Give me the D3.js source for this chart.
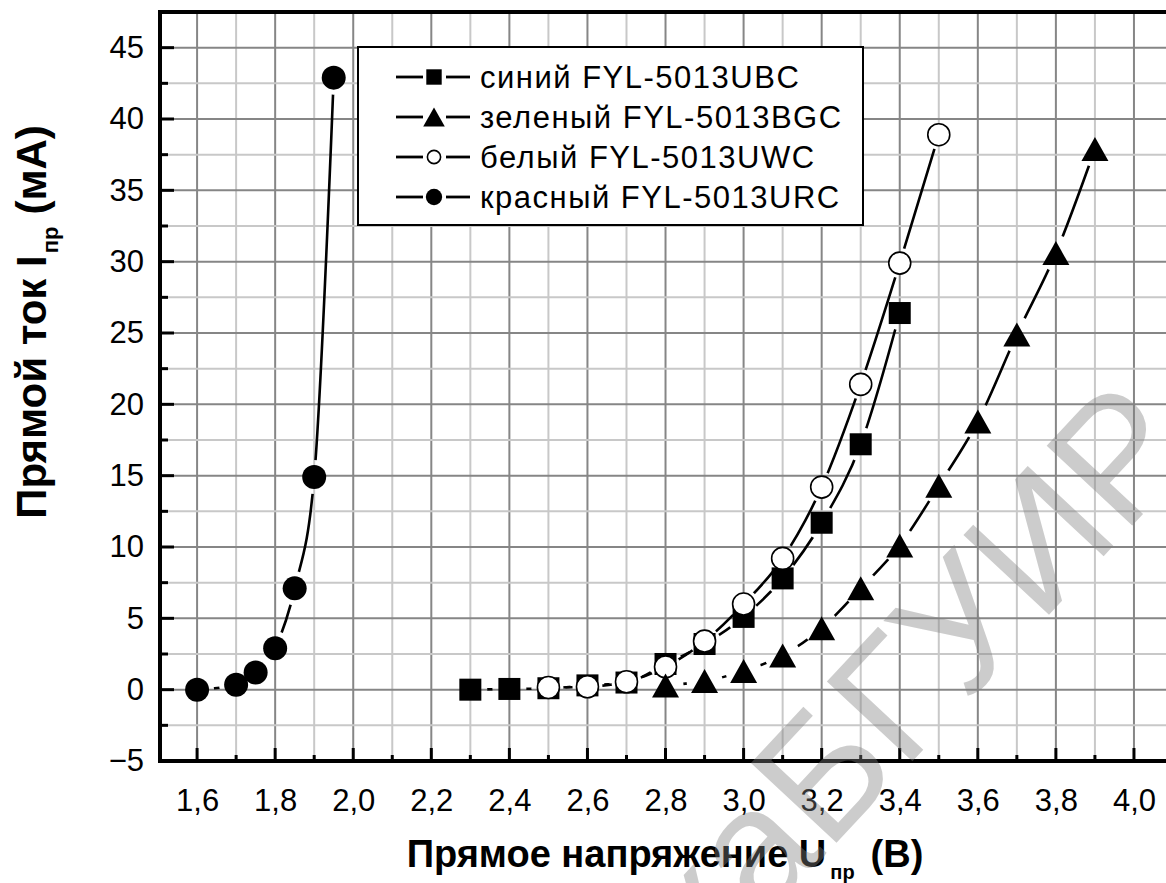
<!DOCTYPE html>
<html><head><meta charset="utf-8">
<script src="https://cdn.jsdelivr.net/npm/d3@7/dist/d3.min.js"></script>
<style>
html,body{margin:0;padding:0;background:#fff;}
svg{display:block;font-family:"Liberation Sans",Arial,sans-serif;}
</style></head>
<body>
<svg id="chart" width="1166" height="883"></svg>
<script>
// ---- data ----
const seriesNames = ["синий FYL-5013UBC", "зеленый FYL-5013BGC", "белый FYL-5013UWC", "красный FYL-5013URC"];
const blueU  = [2.3, 2.4, 2.5, 2.6, 2.7, 2.8, 2.9, 3.0, 3.1, 3.2, 3.3, 3.4];
const blueI  = [0, 0.05, 0.1, 0.3, 0.5, 1.8, 3.2, 5.1, 7.8, 11.7, 17.2, 26.4];
const greenU = [2.8, 2.9, 3.0, 3.1, 3.2, 3.3, 3.4, 3.5, 3.6, 3.7, 3.8, 3.9];
const greenI = [0.3, 0.6, 1.3, 2.4, 4.3, 7.1, 10.1, 14.3, 18.8, 24.9, 30.6, 37.9];
const whiteU = [2.5, 2.6, 2.7, 2.8, 2.9, 3.0, 3.1, 3.2, 3.3, 3.4, 3.5];
const whiteI = [0.15, 0.2, 0.55, 1.6, 3.4, 6.0, 9.2, 14.2, 21.4, 29.9, 38.9];
const redU   = [1.6, 1.7, 1.75, 1.8, 1.85, 1.9, 1.95];
const redI   = [0, 0.35, 1.2, 2.9, 7.1, 14.9, 42.9];
const xTicks = [1.6, 1.8, 2.0, 2.2, 2.4, 2.6, 2.8, 3.0, 3.2, 3.4, 3.6, 3.8, 4.0];
const yTicks = [-5, 0, 5, 10, 15, 20, 25, 30, 35, 40, 45];
const xTitle = "Прямое напряжение U";
const yTitle = "Прямой ток I";
const subText = "пр";
const watermarkPre = "Библиотека ";
const watermark = "БГУИР";

// ---- layout ----
const svg = d3.select("#chart");
const L = 160, T = 12, B = 761, R = 1173;
const x = d3.scaleLinear().domain([1.505, 4.1]).range([L, R]);
const y = d3.scaleLinear().domain([-5, 47.5]).range([B, T]);
const FONT = "Liberation Sans, Arial, sans-serif";

// grid
const gridG = svg.append("g");
const xGrid = d3.range(16, 42).map(d => d / 10);
const yGrid = d3.range(-1, 20).map(d => d * 2.5);
gridG.selectAll("line.vx").data(xGrid).join("line")
  .attr("x1", d => x(d)).attr("x2", d => x(d)).attr("y1", T).attr("y2", B)
  .attr("stroke", d => Math.round(d * 10) % 2 === 0 ? "#868686" : "#c8c8c8").attr("stroke-width", 2);
gridG.selectAll("line.hy").data(yGrid).join("line")
  .attr("y1", d => y(d)).attr("y2", d => y(d)).attr("x1", L).attr("x2", 1166)
  .attr("stroke", d => (d % 5 === 0) ? "#868686" : "#c8c8c8").attr("stroke-width", 2);

// axes
const xAxis = d3.axisBottom(x).tickValues(xTicks).tickSize(0).tickPadding(0)
  .tickFormat(d => d3.format(".1f")(d).replace(".", ","));
const gx = svg.append("g").attr("transform", `translate(0,${B})`).call(xAxis);
gx.select(".domain").remove();
gx.selectAll("text").attr("font-size", 31).attr("fill", "#000").attr("font-family", FONT)
  .attr("y", 50).attr("dy", 0);
const yAxis = d3.axisLeft(y).tickValues(yTicks).tickSize(0).tickPadding(0);
const gy = svg.append("g").attr("transform", `translate(${L},0)`).call(yAxis);
gy.select(".domain").remove();
gy.selectAll("text").attr("font-size", 31).attr("fill", "#000").attr("font-family", FONT).attr("x", -16);

// tick marks (inward)
const tickG = svg.append("g").attr("stroke", "#000").attr("stroke-width", 3);
tickG.selectAll("line.xt").data(xGrid).join("line")
  .attr("x1", d => x(d)).attr("x2", d => x(d)).attr("y1", B)
  .attr("y2", d => Math.round(d * 10) % 2 === 0 ? B - 13 : B - 6);
tickG.selectAll("line.yt").data(yGrid.filter(d => d > -5)).join("line")
  .attr("y1", d => y(d)).attr("y2", d => y(d)).attr("x1", L)
  .attr("x2", d => (d % 5 === 0) ? L + 14 : L + 8);

// frame
svg.append("line").attr("x1", L).attr("x2", 1166).attr("y1", B).attr("y2", B).attr("stroke", "#000").attr("stroke-width", 4);
svg.append("line").attr("x1", L).attr("x2", 1166).attr("y1", T).attr("y2", T).attr("stroke", "#000").attr("stroke-width", 4);
svg.append("line").attr("x1", L).attr("x2", L).attr("y1", T - 2).attr("y2", B + 2).attr("stroke", "#000").attr("stroke-width", 4);

// series
const series = [
  {name: seriesNames[0], u: blueU, i: blueI, sym: "square", hole: 17},
  {name: seriesNames[2], u: whiteU, i: whiteI, sym: "open", hole: 15},
  {name: seriesNames[1], u: greenU, i: greenI, sym: "triangle", hole: 18},
  {name: seriesNames[3], u: redU, i: redI, sym: "dot", hole: 17}
];
const defs = svg.append("defs");
const line = d3.line().x(d => x(d[0])).y(d => y(d[1])).curve(d3.curveMonotoneX);

function drawSymbol(g, sym, cx, cy, s) {
  if (sym === "square") {
    g.append("rect").attr("x", cx - 11 * s).attr("y", cy - 11 * s).attr("width", 22 * s).attr("height", 22 * s).attr("fill", "#000");
  } else if (sym === "triangle") {
    const w = 27 * s, h = 24 * s;
    g.append("path").attr("d", `M${cx},${cy - h / 2}L${cx + w / 2},${cy + h / 2}L${cx - w / 2},${cy + h / 2}Z`).attr("fill", "#000");
  } else if (sym === "open") {
    g.append("circle").attr("cx", cx).attr("cy", cy).attr("r", 11 * s).attr("fill", "#fff").attr("stroke", "#000").attr("stroke-width", 1.6);
  } else {
    g.append("circle").attr("cx", cx).attr("cy", cy).attr("r", 12 * s).attr("fill", "#000");
  }
}

series.forEach((s, k) => {
  const pts = s.u.map((u, j) => [u, s.i[j]]);
  const m = defs.append("mask").attr("id", "mask" + k).attr("maskUnits", "userSpaceOnUse")
    .attr("x", 0).attr("y", 0).attr("width", 1166).attr("height", 883);
  m.append("rect").attr("width", 1166).attr("height", 883).attr("fill", "#fff");
  pts.forEach(p => m.append("circle").attr("cx", x(p[0])).attr("cy", y(p[1])).attr("r", s.hole).attr("fill", "#000"));
  svg.append("path").datum(pts).attr("d", line).attr("fill", "none").attr("stroke", "#000")
    .attr("stroke-width", 2.6).attr("mask", `url(#mask${k})`);
});
series.forEach(s => {
  const g = svg.append("g");
  s.u.forEach((u, j) => drawSymbol(g, s.sym, x(u), y(s.i[j]), 1));
});

// legend
const lg = svg.append("g");
lg.append("rect").attr("x", 358).attr("y", 47).attr("width", 505).attr("height", 178)
  .attr("fill", "#fff").attr("stroke", "#000").attr("stroke-width", 2);
const legendSyms = ["square", "triangle", "open", "dot"];
const legendScale = [0.7, 0.8, 0.6, 0.68];
seriesNames.forEach((n, k) => {
  const cy = 77 + k * 40;
  lg.append("line").attr("x1", 396).attr("x2", 423).attr("y1", cy).attr("y2", cy).attr("stroke", "#000").attr("stroke-width", 2.8);
  lg.append("line").attr("x1", 446).attr("x2", 470).attr("y1", cy).attr("y2", cy).attr("stroke", "#000").attr("stroke-width", 2.8);
  drawSymbol(lg, legendSyms[k], 434, cy, legendScale[k]);
  lg.append("text").attr("x", 480).attr("y", cy).attr("dy", "0.36em").attr("font-size", 31)
    .attr("letter-spacing", 1.5).text(n);
});

// axis titles
const xt = svg.append("text").attr("x", 665).attr("y", 867).attr("text-anchor", "middle")
  .attr("font-size", 38).attr("font-weight", "bold");
xt.append("tspan").text(xTitle);
xt.append("tspan").attr("font-size", 20).attr("dy", 12).attr("dx", 4).text(subText);
xt.append("tspan").attr("dy", -12).attr("dx", 16).text("(В)");

const yt = svg.append("text").attr("transform", "translate(46,322) rotate(-90)").attr("text-anchor", "middle")
  .attr("font-size", 42).attr("font-weight", "bold");
yt.append("tspan").text(yTitle);
yt.append("tspan").attr("font-size", 22).attr("dy", 12).attr("dx", 2).text(subText);
yt.append("tspan").attr("dy", -12).attr("dx", 12).text("(мА)");

// watermark
const wm = svg.append("g").attr("transform", "translate(827,853) rotate(-47)")
  .attr("fill", "#808080").attr("fill-opacity", 0.4).attr("font-size", 170);
wm.append("text").attr("text-anchor", "end").text(watermarkPre);
wm.append("text").attr("text-anchor", "start").text(watermark);
</script>
</body></html>
